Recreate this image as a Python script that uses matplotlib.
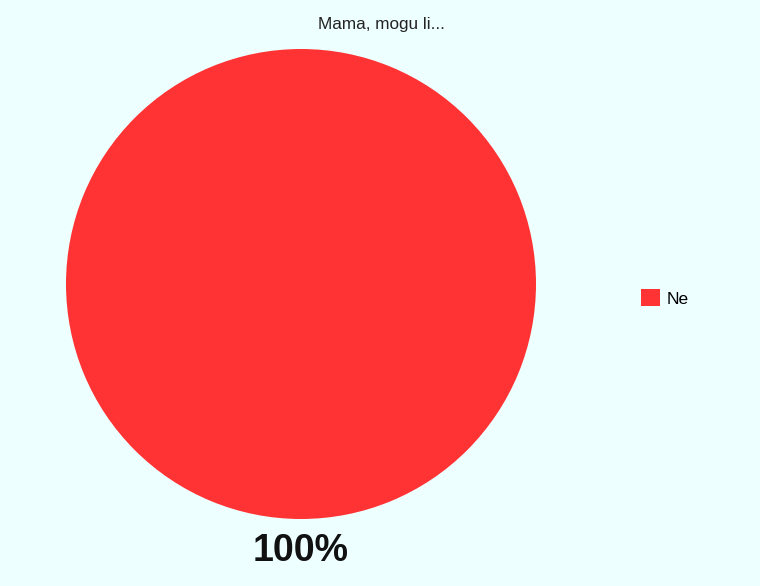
import matplotlib
matplotlib.use("Agg")
import matplotlib.pyplot as plt
from matplotlib.patches import Patch

categories = ["Ne"]
values = [100]
colors = ["#FF3333"]
title = "Mama, mogu li..."

bg = "#EEFFFF"
plt.rcParams['font.family'] = ['Liberation Sans', 'DejaVu Sans']

W, H = 760, 586
fig = plt.figure(figsize=(W/100, H/100), dpi=100, facecolor=bg)
cx, cy, r = 301, 284, 235
ax = fig.add_axes([(cx - r)/W, (H - cy - r)/H, 2*r/W, 2*r/H])
ax.set_facecolor(bg)
wedges, texts, autotexts = ax.pie(values, colors=colors, startangle=90, radius=1,
       autopct=lambda p: f"{p:.0f}%", pctdistance=1.135,
       textprops=dict(fontsize=27, fontweight='bold', color='#111111'),
       wedgeprops=dict(linewidth=0))
ax.set_xlim(-1, 1)
ax.set_ylim(-1, 1)
ax.set_aspect('equal')
ax.axis('off')

fig.text(381/W, 1 - 24/H, title, ha='center', va='center', fontsize=12.3, color='#222222')

handles = [Patch(facecolor=c, edgecolor='none', label=l) for c, l in zip(colors, categories)]
fig.legend(handles=handles, loc='center left', bbox_to_anchor=(627/W, 1 - 298/H),
           frameon=False, fontsize=12.5, handlelength=1.08, handleheight=1.08, handletextpad=0.4,
           borderpad=0.3)

fig.savefig("out.png", dpi=100, facecolor=bg)
